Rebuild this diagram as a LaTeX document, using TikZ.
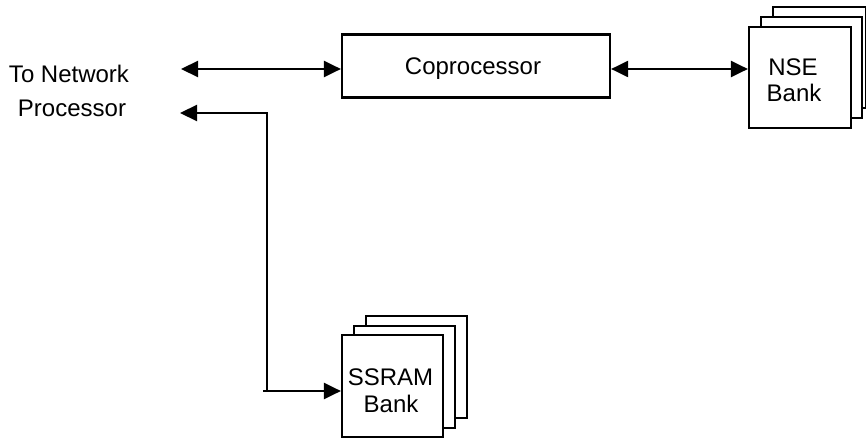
\documentclass[tikz,border=0pt]{standalone}
\usepackage{fontspec}
\setmainfont{Liberation Sans}
\usetikzlibrary{arrows.meta}
\begin{document}
\begin{tikzpicture}[x=1pt,y=-1pt,
  line width=2.2pt,
  arr/.style={-{Triangle[length=17pt,width=16pt]}},
  darr/.style={{Triangle[length=17pt,width=16pt]}-{Triangle[length=17pt,width=16pt]}},
  txt/.style={font=\fontsize{24}{28}\selectfont, inner sep=0pt, anchor=base},
  boxstyle/.style={draw, fill=white, inner sep=0pt}]
\useasboundingbox (0,0) rectangle (866,438);
% Coprocessor
\node[boxstyle, minimum width=268pt, minimum height=63pt] (copro) at (476,66) {};
\node[txt] (coprot) at (473,75) {Coprocessor};
% NSE bank stack
\draw[fill=white] (773,7) rectangle (866,108);
\draw[fill=white] (761,17) rectangle (862,118);
\node[boxstyle, minimum width=102pt, minimum height=101pt] (nse) at (800,77.5) {};
\node[txt] (nset1) at (793,76) {NSE};
\node[txt] (nset2) at (794,102) {Bank};
% SSRAM bank stack
\draw[fill=white] (366,316) rectangle (467,418);
\draw[fill=white] (354,326) rectangle (455,428);
\node[boxstyle, minimum width=101pt, minimum height=102pt] (ssram) at (392.5,386) {};
\node[txt] (sst1) at (390.5,385) {SSRAM};
\node[txt] (sst2) at (391,412) {Bank};
% labels
\node[txt] (tn1) at (69,83) {To Network};
\node[txt] (tn2) at (72,117) {Processor};
% connector end points
\coordinate (np1) at (181,69);
\coordinate (np2) at (180,113);
\coordinate (vbot) at (267,391);
\coordinate (hst) at (263,391);
% connectors
\draw[darr] (np1) -- (np1 -| copro.west);
\draw[darr] (np1 -| copro.east) -- (np1 -| nse.west);
\draw[arr] (vbot) |- (np2);
\draw[arr] (hst) -- (hst -| ssram.west);
\end{tikzpicture}
\end{document}
